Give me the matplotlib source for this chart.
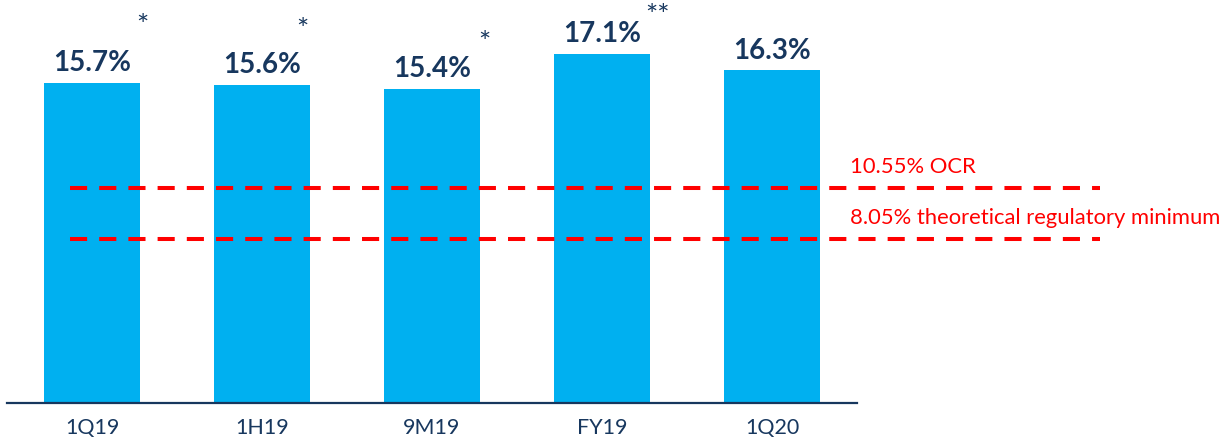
import matplotlib
matplotlib.use('Agg')
import matplotlib.pyplot as plt
import numpy as np

plt.rcParams['font.family'] = ['Lato', 'DejaVu Sans']

# data
periods = ['1Q19', '1H19', '9M19', 'FY19', '1Q20']
ratios = [15.7, 15.6, 15.4, 17.1, 16.3]
footnotes = ['*', '*', '*', '**', '']
ocr_level = 10.55
ocr_label = '10.55% OCR'
min_level = 8.05
min_label = '8.05% theoretical regulatory minimum'

bar_blue = '#00B0F0'
navy = '#17375E'
red = '#FF0000'

# asterisk placement (points, relative to bar centre/top)
star_dx = [36, 29, 38, 40, 0]
star_dy = [40, 39, 32, 27, 0]

fig = plt.figure(figsize=(12.28, 4.37), dpi=100)
ax = fig.add_axes([0, 34 / 437, 1, 403 / 437])

x = np.arange(len(periods))
ax.bar(x, ratios, width=0.56, color=bar_blue, zorder=2)

for xi, v, note, dx, dy in zip(x, ratios, footnotes, star_dx, star_dy):
    ax.annotate(f'{v:.1f}%', (xi, v), xytext=(0, 5), textcoords='offset points',
                ha='center', va='bottom', fontsize=20, fontweight='bold', color=navy)
    if note:
        ax.annotate(note, (xi, v), xytext=(dx, dy), textcoords='offset points',
                    ha='center', va='center', fontsize=21, color=navy)

# regulatory thresholds
for lvl, lab in [(ocr_level, ocr_label), (min_level, min_label)]:
    ax.plot([-0.13, 5.93], [lvl, lvl], color=red, lw=2.9, dashes=(4.25, 3), zorder=3)
    ax.annotate(lab, (4.46, lvl), xytext=(0, 8), textcoords='offset points',
                ha='left', va='bottom', fontsize=15.8, color=red)

# baseline
ax.plot([-0.5, 4.5], [0, 0], color=navy, lw=1.6, clip_on=False, zorder=4)

ax.set_xlim(-92 / 170, (1228 - 92) / 170)
ax.set_ylim(0, 403 / 20.4)
ax.set_xticks(x)
ax.set_xticklabels(periods, fontsize=15.5, color=navy)
ax.tick_params(axis='x', length=0, pad=11)
ax.set_yticks([])
for s in ax.spines.values():
    s.set_visible(False)

plt.savefig('out.png', dpi=100)
